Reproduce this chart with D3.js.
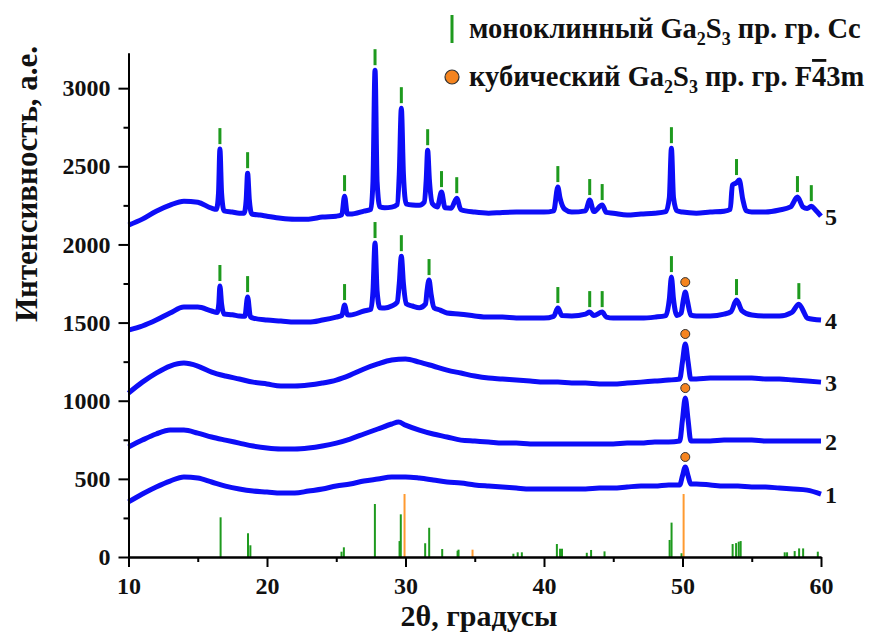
<html lang="ru">
<head>
  <meta charset="UTF-8"/>
  <title>XRD Ga2S3</title>
  <script src="https://d3js.org/d3.v7.min.js"></script>
</head>
<style>
body {
  margin: 0;
  background: #fff;
}

svg text {
  font-family: "Liberation Serif", "Times New Roman", serif !important;
  font-weight: bold;
  fill: #111;
}

.axis path, .axis line {
  stroke: #000;
  stroke-width: 2;
}

.axis text {
  font-size: 24px;
}

path.curve {
  fill: none;
  stroke: #0d0df7;
  stroke-width: 5;
  stroke-linejoin: round;
}

text.title {
  font-size: 30px;
}

text.ytitle {
  font-size: 31px;
}

text.num {
  font-size: 24px;
}

text.legend {
  font-size: 28.5px;
}
</style>
<body>
<svg width="878" height="632"></svg>
<script>
    // diffractograms 1..5 (2theta, intensity)
    const curve1 = [[10,352],[11,403],[12,448],[13,486],[14,512],[15,505],[16,480],[17,454],[18,435],[19,422],[20,416],[21,409],[22,409],[23,422],[24,435],[25,454],[26,467],[27,486],[28,499],[29,512],[30,512],[31,505],[32,493],[33,480],[34,473],[35,461],[36,454],[37,448],[38,441],[39,435],[40,435],[41,435],[42,435],[43,435],[44,441],[45,441],[46,448],[47,454],[48,454],[49,461],[49.8,461],[50.0,520],[50.2,576],[50.4,520],[50.6,467],[51,467],[52,461],[53,454],[54,454],[55,448],[56,448],[57,441],[58,435],[59,428],[60,403]];

    const curve2 = [[10,704],[11,748],[12,787],[13,812],[14,812],[15,793],[16,768],[17,748],[18,729],[19,710],[20,697],[21,691],[22,691],[23,697],[24,710],[25,729],[26,755],[27,787],[28,819],[29,851],[29.5,864],[30,844],[31,812],[32,787],[33,768],[34,748],[35,742],[36,736],[37,729],[38,729],[39,723],[40,723],[41,723],[42,723],[43,723],[44,723],[45,723],[46,729],[47,729],[48,736],[49,736],[49.8,742],[50.0,880],[50.2,1017],[50.4,880],[50.6,742],[51,742],[52,742],[53,748],[54,748],[55,748],[56,742],[57,742],[58,742],[59,742],[60,742]];

    const curve3 = [[10,1049],[11,1119],[12,1177],[13,1222],[14,1241],[15,1222],[16,1183],[17,1158],[18,1139],[19,1119],[20,1107],[21,1094],[22,1094],[23,1100],[24,1113],[25,1132],[26,1164],[27,1203],[28,1235],[29,1260],[30,1267],[31,1247],[32,1222],[33,1196],[34,1177],[35,1158],[36,1145],[37,1139],[38,1132],[39,1126],[40,1119],[41,1119],[42,1113],[43,1113],[44,1107],[45,1107],[46,1113],[47,1119],[48,1126],[49,1132],[49.8,1139],[50.0,1250],[50.2,1363],[50.4,1250],[50.6,1139],[51,1139],[52,1145],[53,1145],[54,1145],[55,1145],[56,1139],[57,1139],[58,1132],[59,1126],[60,1119]];

    const curve4 = [[10,1452],[11,1478],[12,1516],[13,1561],[14,1599],[15,1599],[16,1574],[16.4,1565],[16.52,1620],[16.6,1734],[16.72,1620],[16.9,1555],[17.5,1550],[18,1542],[18.4,1540],[18.6,1663],[18.8,1538],[19,1529],[20,1516],[21,1510],[22,1503],[23,1503],[24,1516],[25,1535],[25.4,1545],[25.6,1612],[25.8,1550],[26,1548],[27,1574],[27.5,1585],[27.65,1700],[27.8,2009],[27.95,1700],[28.15,1595],[28.5,1593],[29,1606],[29.4,1630],[29.55,1750],[29.7,1925],[29.85,1750],[30.05,1620],[30.5,1606],[31,1595],[31.45,1620],[31.55,1700],[31.7,1772],[31.85,1680],[32.05,1595],[32.5,1580],[33,1561],[34,1554],[35,1542],[36,1535],[37,1535],[38,1529],[39,1529],[40,1529],[40.7,1540],[41.0,1593],[41.3,1545],[42,1542],[43,1554],[43.3,1567],[43.6,1545],[44.2,1567],[44.5,1535],[45,1529],[46,1529],[47,1529],[48,1535],[48.8,1545],[49.05,1650],[49.2,1791],[49.35,1650],[49.6,1545],[49.9,1560],[50.05,1640],[50.2,1695],[50.35,1640],[50.6,1548],[51,1542],[52,1542],[53,1554],[53.5,1570],[53.9,1644],[54.3,1575],[55,1548],[56,1542],[57,1542],[57.9,1565],[58.4,1618],[58.8,1560],[59,1529],[60,1516]];

    const curve5 = [[10,2124],[11,2162],[12,2213],[13,2252],[14,2277],[15,2270],[16,2232],[16.35,2225],[16.5,2330],[16.6,2610],[16.72,2330],[16.9,2215],[17.5,2207],[18,2200],[18.35,2200],[18.5,2290],[18.6,2456],[18.72,2290],[18.9,2195],[19.5,2188],[20,2181],[21,2168],[22,2162],[23,2162],[24,2175],[25,2181],[25.4,2190],[25.6,2309],[25.8,2195],[26,2194],[27,2213],[27.5,2225],[27.65,2400],[27.8,3115],[27.95,2400],[28.15,2240],[28.5,2235],[29,2239],[29.4,2255],[29.55,2450],[29.7,2872],[29.85,2450],[30.05,2260],[30.5,2252],[31,2250],[31.35,2270],[31.5,2420],[31.6,2603],[31.72,2420],[31.95,2260],[32.3,2240],[32.6,2335],[32.85,2235],[33.3,2232],[33.7,2296],[34,2222],[35,2207],[36,2200],[37,2205],[38,2207],[39,2207],[40,2207],[40.7,2215],[41.0,2367],[41.15,2300],[41.5,2225],[42,2207],[43,2215],[43.3,2284],[43.6,2210],[44.2,2252],[44.5,2205],[45,2200],[46,2188],[47,2195],[48,2200],[48.8,2210],[49.05,2300],[49.2,2616],[49.35,2300],[49.6,2215],[50,2207],[51,2200],[52,2207],[53,2213],[53.45,2225],[53.6,2380],[53.9,2395],[54.1,2412],[54.35,2290],[54.6,2215],[55,2207],[56,2207],[57,2220],[57.8,2240],[58.3,2303],[58.7,2240],[59,2230],[59.3,2245],[59.6,2220],[60,2181]];

    const curves = [curve1, curve2, curve3, curve4, curve5];
    const curveLabels = ['1', '2', '3', '4', '5'];

    // reference patterns (bar diagram at the bottom)
    const monoSticks = [[16.65,254],[18.63,152],[18.8,75],[25.38,34],[25.55,62],[27.79,339],[29.57,102],[29.66,273],[31.42,88],[31.71,187],[32.65,51],[33.76,40],[33.83,47],[37.79,21],[38.1,30],[38.4,30],[40.93,83],[41.16,53],[41.3,53],[43.09,27],[43.4,45],[44.37,36],[49.07,109],[49.21,220],[49.93,24],[53.62,83],[53.87,89],[54.06,98],[54.2,102],[57.38,30],[57.55,30],[58.1,38],[58.42,55],[58.71,55],[59.77,34]];
    const cubicSticks = [[29.93,403],[34.84,47],[50.08,403]];

    // peak markers: [curve index, 2theta]
    const monoMarks = [
      [3,16.6],[3,18.6],[3,25.6],[3,27.8],[3,29.7],[3,31.7],[3,41.0],[3,43.3],[3,44.2],[3,49.2],[3,53.9],[3,58.4],
      [4,16.6],[4,18.6],[4,25.6],[4,27.8],[4,29.7],[4,31.6],[4,32.6],[4,33.7],[4,41.0],[4,43.3],[4,44.2],[4,49.2],[4,53.9],[4,58.3],[4,59.3]
    ];
    const cubicMarks = [[0,50.2],[1,50.2],[2,50.2],[3,50.2]];

    const xTicks = [10, 20, 30, 40, 50, 60];
    const xMinor = [15, 25, 35, 45, 55];
    const yTicks = [0, 500, 1000, 1500, 2000, 2500, 3000];
    const yMinor = [250, 750, 1250, 1750, 2250, 2750];

    const green = '#1e9a1e';
    const orange = '#ff9a30';

    const svg = d3.select('svg');

    const x = d3.scaleLinear().domain([10, 60]).range([128.5, 821]);
    const y = d3.scaleLinear().domain([0, 3225]).range([557, 53]);

    // reference sticks
    svg.append('g').selectAll('line')
      .data(monoSticks)
      .enter()
      .append('line')
      .attr('x1', d => x(d[0])).attr('x2', d => x(d[0]))
      .attr('y1', y(0)).attr('y2', d => y(d[1]))
      .attr('stroke', green)
      .attr('stroke-width', 2);

    svg.append('g').selectAll('line')
      .data(cubicSticks)
      .enter()
      .append('line')
      .attr('x1', d => x(d[0])).attr('x2', d => x(d[0]))
      .attr('y1', y(0)).attr('y2', d => y(d[1]))
      .attr('stroke', orange)
      .attr('stroke-width', 2);

    // curves
    const line = d3.line()
      .x(d => x(d[0]))
      .y(d => y(d[1]))
      .curve(d3.curveMonotoneX);

    svg.append('g').selectAll('path')
      .data(curves)
      .enter()
      .append('path')
      .attr('class', 'curve')
      .attr('d', line);

    svg.append('g').selectAll('text')
      .data(curves)
      .enter()
      .append('text')
      .attr('class', 'num')
      .attr('x', x(60) + 4)
      .attr('y', d => y(d[d.length - 1][1]) + 9)
      .text((d, i) => curveLabels[i]);

    // top of the peak next to a given angle
    const peakTop = (ci, t) => d3.max(curves[ci].filter(p => Math.abs(p[0] - t) < 0.3), p => p[1]);

    svg.append('g').selectAll('rect')
      .data(monoMarks)
      .enter()
      .append('rect')
      .attr('x', d => x(d[1]) - 1.5)
      .attr('y', d => y(peakTop(d[0], d[1])) - 21)
      .attr('width', 3)
      .attr('height', 16)
      .attr('fill', green);

    svg.append('g').selectAll('circle')
      .data(cubicMarks)
      .enter()
      .append('circle')
      .attr('cx', d => x(d[1]))
      .attr('cy', d => y(peakTop(d[0], d[1])) - 10)
      .attr('r', 4.5)
      .attr('fill', '#f5841f')
      .attr('stroke', '#333')
      .attr('stroke-width', 1);

    // axes
    svg.append('g')
      .attr('class', 'axis')
      .attr('transform', `translate(0, ${y(0)})`)
      .call(d3.axisBottom(x).tickValues(xTicks).tickSize(10).tickSizeOuter(0).tickPadding(10).tickFormat(d3.format('d')));

    svg.append('g')
      .attr('class', 'axis')
      .attr('transform', `translate(0, ${y(0)})`)
      .call(d3.axisBottom(x).tickValues(xMinor).tickSize(5).tickSizeOuter(0).tickFormat(''));

    svg.append('g')
      .attr('class', 'axis')
      .attr('transform', `translate(${x(10)}, 0)`)
      .call(d3.axisLeft(y).tickValues(yTicks).tickSize(10).tickSizeOuter(0).tickPadding(8).tickFormat(d3.format('d')));

    svg.append('g')
      .attr('class', 'axis')
      .attr('transform', `translate(${x(10)}, 0)`)
      .call(d3.axisLeft(y).tickValues(yMinor).tickSize(5).tickSizeOuter(0).tickFormat(''));

    // titles
    svg.append('text')
      .attr('class', 'title')
      .attr('x', 479)
      .attr('y', 626)
      .attr('text-anchor', 'middle')
      .text('2θ, градусы');

    svg.append('text')
      .attr('class', 'ytitle')
      .attr('transform', 'translate(37, 184) rotate(-90)')
      .attr('text-anchor', 'middle')
      .text('Интенсивность, а.е.');

    // legend
    svg.append('rect')
      .attr('x', 450.5).attr('y', 15)
      .attr('width', 3).attr('height', 28)
      .attr('fill', green);

    svg.append('circle')
      .attr('cx', 452).attr('cy', 77).attr('r', 7)
      .attr('fill', '#f5841f')
      .attr('stroke', '#333')
      .attr('stroke-width', 1.2);

    const leg1 = svg.append('text').attr('class', 'legend').attr('x', 469).attr('y', 38);
    leg1.append('tspan').text('моноклинный Ga');
    leg1.append('tspan').attr('font-size', 18).attr('dy', 7).text('2');
    leg1.append('tspan').attr('dy', -7).text('S');
    leg1.append('tspan').attr('font-size', 18).attr('dy', 7).text('3');
    leg1.append('tspan').attr('dy', -7).text(' пр. гр. Cc');

    const leg2 = svg.append('text').attr('class', 'legend').attr('x', 469).attr('y', 86);
    leg2.append('tspan').text('кубический Ga');
    leg2.append('tspan').attr('font-size', 18).attr('dy', 7).text('2');
    leg2.append('tspan').attr('dy', -7).text('S');
    leg2.append('tspan').attr('font-size', 18).attr('dy', 7).text('3');
    leg2.append('tspan').attr('dy', -7).text(' пр. гр. F');
    leg2.append('tspan').style('text-decoration', 'overline').text('4');
    leg2.append('tspan').text('3m');
</script>
</body>
</html>
